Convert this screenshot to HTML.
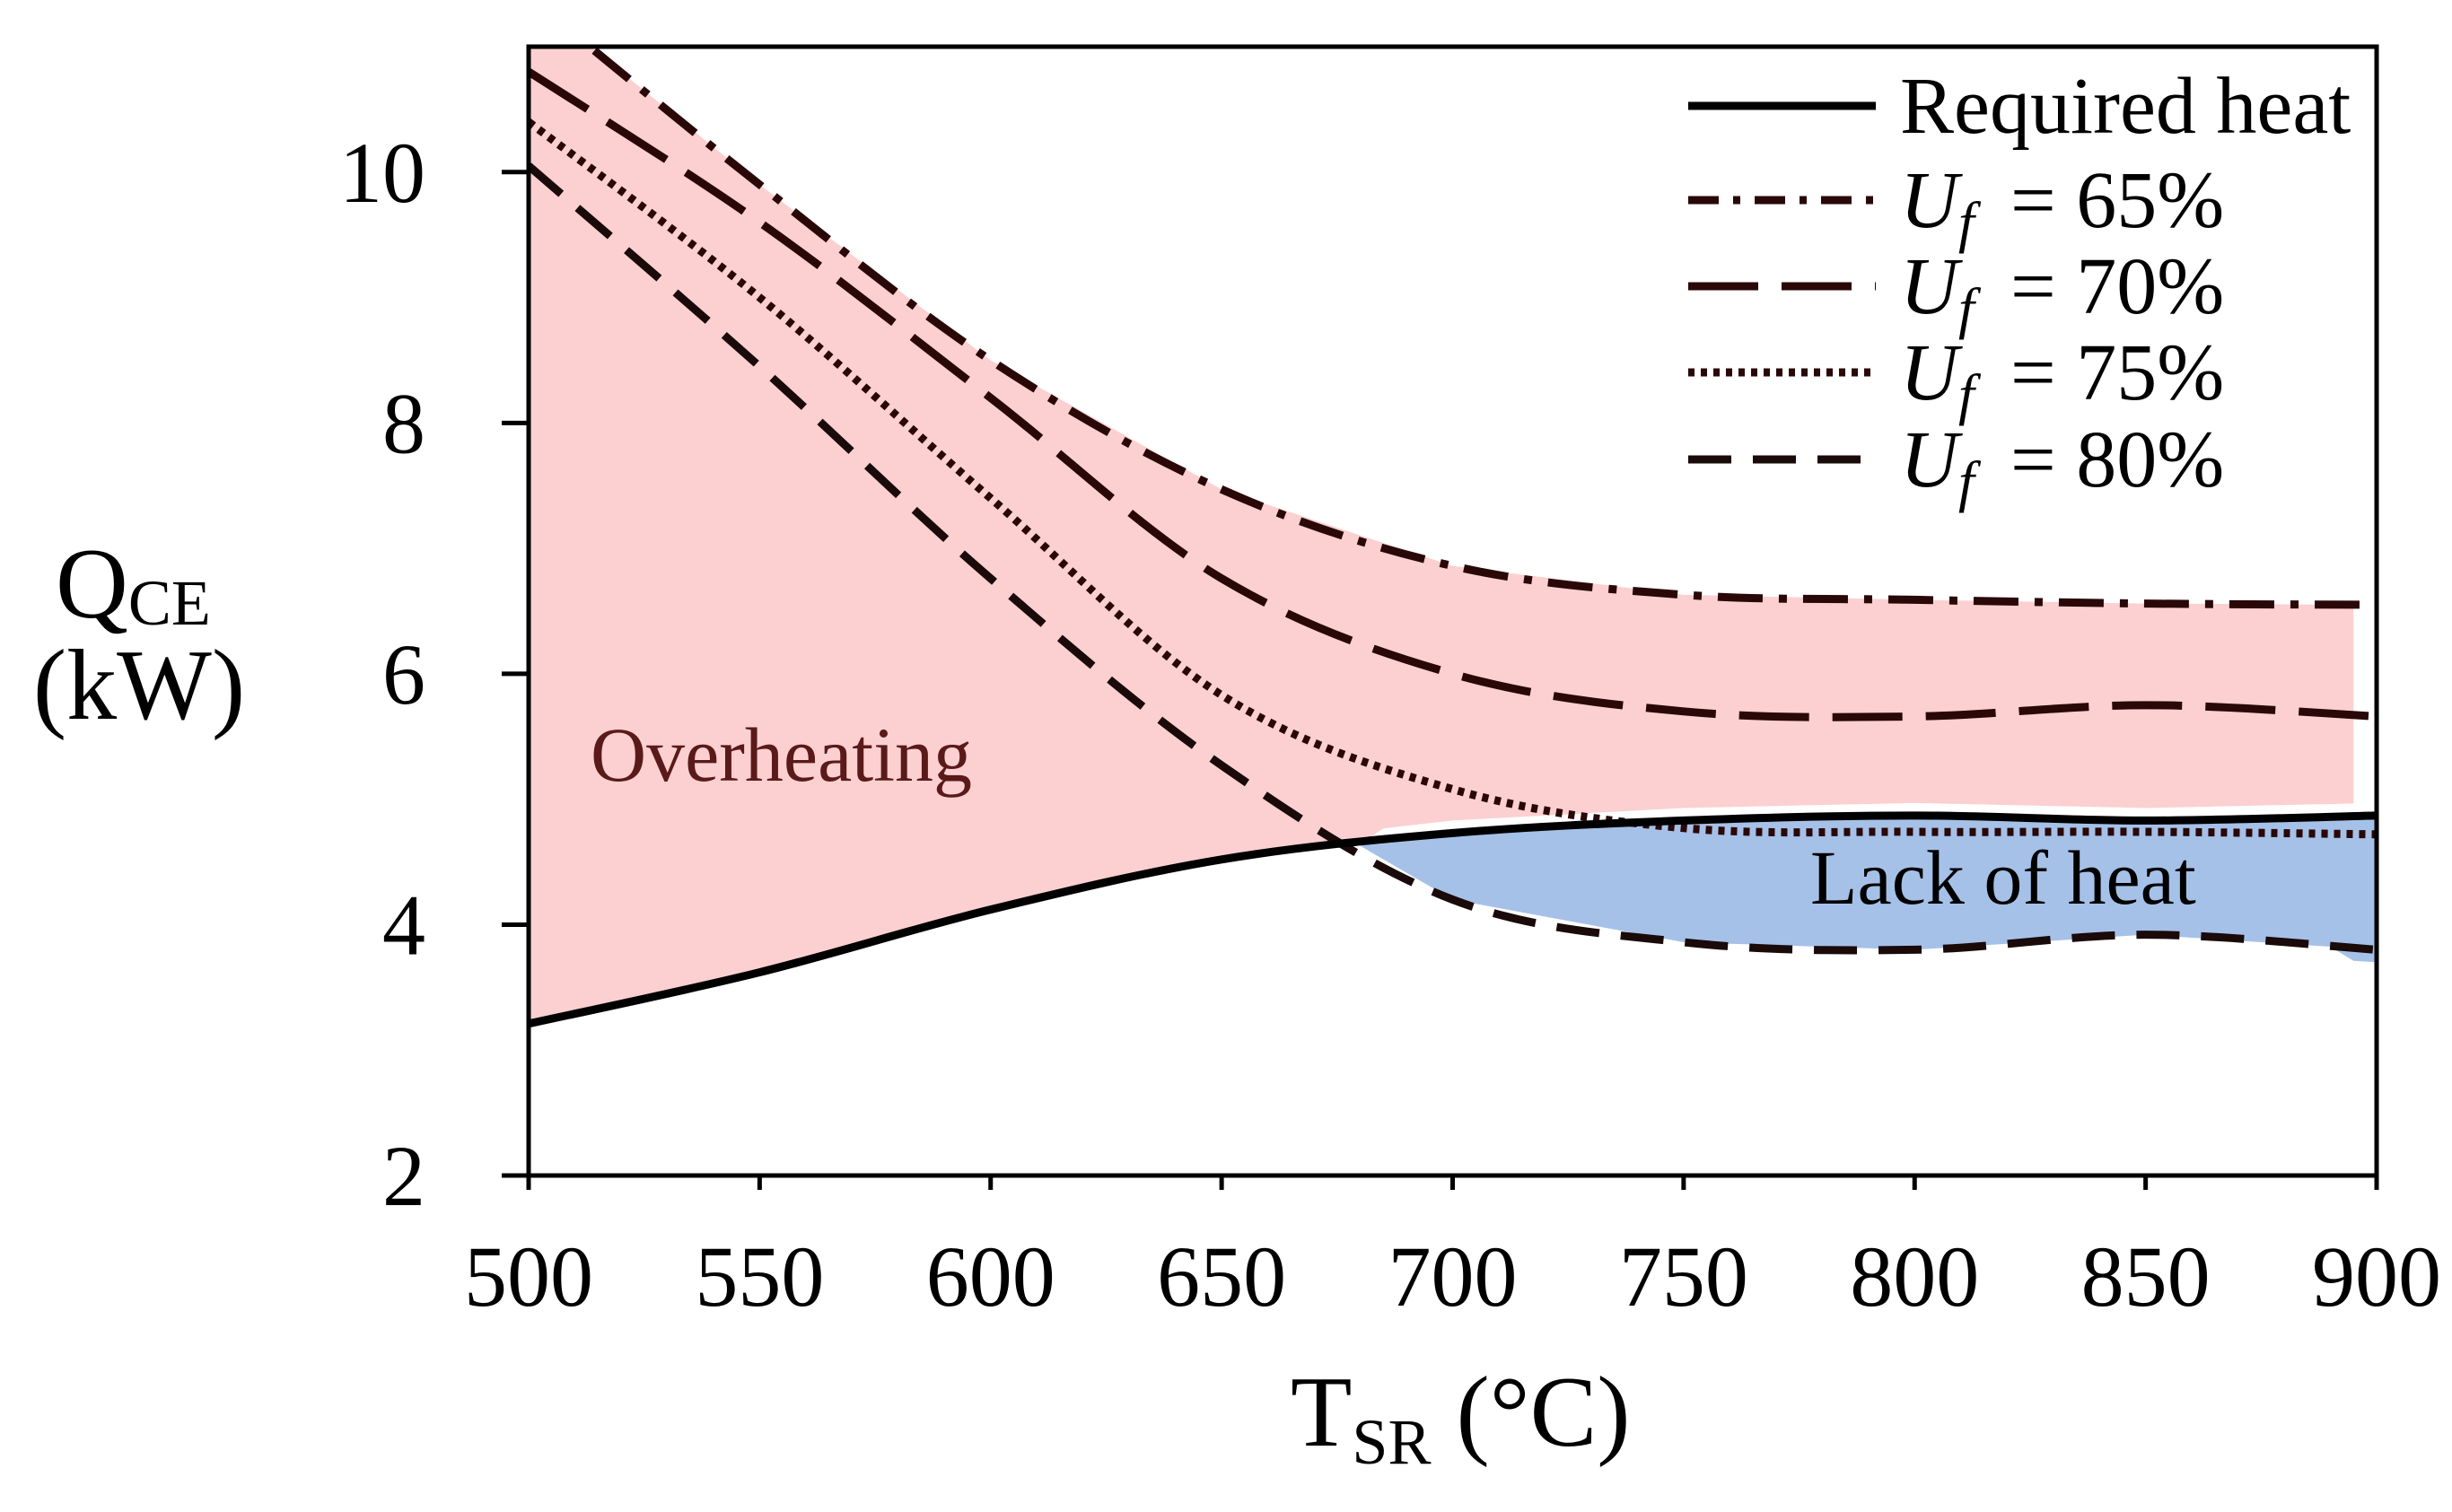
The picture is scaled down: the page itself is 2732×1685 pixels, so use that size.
<!DOCTYPE html>
<html><head><meta charset="utf-8"><style>
html,body{margin:0;padding:0;background:#fff;}
svg{display:block;font-family:"Liberation Serif",serif;}
</style></head><body>
<svg id="chart" width="2732" height="1685" viewBox="0 0 2732 1685" xmlns="http://www.w3.org/2000/svg"></svg>
<script>
const categories=[500,550,600,650,700,750,800,850,900];
const requiredHeat=[3.21,3.62,4.12,4.52,4.73,4.83,4.87,4.83,4.87];
const uf65=[11.4,9.9,8.5,7.47,6.86,6.63,6.59,6.56,6.55];
const uf70=[10.8,9.6,8.2,6.76,6.0,5.7,5.66,5.75,5.66];
const uf75=[10.4,9.0,7.4,5.83,5.08,4.77,4.74,4.74,4.72];
const uf80=[10.05,8.45,6.76,5.27,4.2,3.86,3.8,3.92,3.8];
const xTicks=[500,550,600,650,700,750,800,850,900];
const yTicks=[2,4,6,8,10];

const NS="http://www.w3.org/2000/svg";
const svgEl=document.getElementById('chart');
const X0=589,X1=2648,YB=1310,YT=52;
const xs=v=>X0+(v-500)/400*(X1-X0);
const ys=v=>YB-(v-2)/9*(YB-YT);
function el(tag,attrs,parent){const e=document.createElementNS(NS,tag);for(const k in attrs)e.setAttribute(k,attrs[k]);(parent||svgEl).appendChild(e);return e;}
function pts(arr){return categories.map((c,i)=>[xs(c),ys(arr[i])]);}
function curve(p){let d=`M${p[0][0]},${p[0][1]}`;for(let i=0;i<p.length-1;i++){const p0=p[i-1]||p[i],p1=p[i],p2=p[i+1],p3=p[i+2]||p2;
d+=` C${p1[0]+(p2[0]-p0[0])/6},${p1[1]+(p2[1]-p0[1])/6} ${p2[0]-(p3[0]-p1[0])/6},${p2[1]-(p3[1]-p1[1])/6} ${p2[0]},${p2[1]}`;}return d;}
function lerp(arr,x){for(let i=0;i<categories.length-1;i++){if(x>=categories[i]&&x<=categories[i+1]){const t=(x-categories[i])/(categories[i+1]-categories[i]);return arr[i]+t*(arr[i+1]-arr[i]);}}return arr[arr.length-1];}

const defs=el('defs',{});
const cp=el('clipPath',{id:'plotclip'},defs);
el('rect',{x:X0,y:YT,width:X1-X0,height:YB-YT},cp);
const g=el('g',{'clip-path':'url(#plotclip)'});



let cross=680;
for(let x=500;x<=900;x+=1){if(lerp(uf80,x)<=lerp(requiredHeat,x)){cross=x;break;}}
const topPts=[];for(let x=500;x<=895;x+=5)topPts.push([xs(x),ys(lerp(uf65,x))]);
let pd='M'+topPts.map(p=>p.join(',')).join(' L');
const botPts=[];
for(let x=895;x>=500;x-=5){const v=x>cross?lerp(requiredHeat,x)+0.1:lerp(requiredHeat,x);botPts.push([xs(x),ys(v)]);}
pd+=' L'+botPts.map(p=>p.join(',')).join(' L')+' Z';
const pink=el('path',{d:pd,fill:'#fcd0d0'},g);


const bt=[],bb=[];
for(let x=cross;x<=900;x+=5)bt.push([xs(x),ys(lerp(requiredHeat,x))]);
for(let x=900;x>=cross;x-=5)bb.push([xs(x),ys(lerp(uf80,x)-(x>=895?0.1:0))]);
const blue=el('path',{d:'M'+bt.map(p=>p.join(',')).join(' L')+' L'+bb.map(p=>p.join(',')).join(' L')+' Z',fill:'#a6c1e8'},g);



const series=[
 {name:'uf65-line',data:uf65,dash:'50 18 9 18',col:'#2a0808'},
 {name:'uf70-line',data:uf70,dash:'78 26',col:'#2a0808'},
 {name:'uf75-line',data:uf75,dash:'7 7',col:'#2a0808'},
 {name:'uf80-line',data:uf80,dash:'48 24',col:'#1a0a0a'},
 {name:'required-heat-line',data:requiredHeat,dash:'none',col:'#000'}];
series.forEach(s=>{const p=el('path',{d:curve(pts(s.data)),fill:'none',stroke:s.col,'stroke-width':9,'stroke-dasharray':s.dash},g);

});

const frame=el('rect',{x:X0,y:YT,width:X1-X0,height:YB-YT,fill:'none',stroke:'#000','stroke-width':5});


yTicks.forEach(v=>{const y=ys(v);el('line',{x1:X0-30,x2:X0,y1:y,y2:y,stroke:'#000','stroke-width':5});
const t=el('text',{x:474,y:y+33,'text-anchor':'end','font-size':96});t.textContent=v;

});
xTicks.forEach(v=>{const x=xs(v);el('line',{x1:x,x2:x,y1:YB,y2:YB+16,stroke:'#000','stroke-width':5});
const t=el('text',{x:x,y:1455,'text-anchor':'middle','font-size':96});t.textContent=v;

});
</script>
<svg style="position:absolute;left:0;top:0" width="2732" height="1685" font-family="Liberation Serif, serif">
<text x="1438" y="1611" font-size="112">T<tspan font-size="72" dy="20">SR</tspan><tspan dy="-20"> (°C)</tspan></text>
<text x="62" y="688" font-size="112">Q<tspan font-size="72" dy="8">CE</tspan></text>
<text x="155" y="801" font-size="112" text-anchor="middle">(kW)</text>
<text x="658" y="870" font-size="86" fill="#5a1a1a">Overheating</text>
<text x="2017" y="1007" font-size="86" fill="#000">Lack of heat</text>
<g font-size="90">
 <line x1="1881" x2="2090" y1="118" y2="118" stroke="#000" stroke-width="9"/>
 <text x="2117" y="148">Required heat</text>
 <line x1="1881" x2="2090" y1="223" y2="223" stroke="#2a0808" stroke-width="9" stroke-dasharray="34 16 8 16"/>
 <text x="2117" y="253"><tspan font-style="italic">U<tspan font-size="64" dy="16">f</tspan></tspan><tspan dy="-16" x="2240">= 65%</tspan></text>
 <line x1="1881" x2="2090" y1="319" y2="319" stroke="#2a0808" stroke-width="9" stroke-dasharray="78 26"/>
 <text x="2117" y="349"><tspan font-style="italic">U<tspan font-size="64" dy="16">f</tspan></tspan><tspan dy="-16" x="2240">= 70%</tspan></text>
 <line x1="1881" x2="2090" y1="415" y2="415" stroke="#2a0808" stroke-width="9" stroke-dasharray="7 7"/>
 <text x="2117" y="445"><tspan font-style="italic">U<tspan font-size="64" dy="16">f</tspan></tspan><tspan dy="-16" x="2240">= 75%</tspan></text>
 <line x1="1881" x2="2090" y1="512" y2="512" stroke="#1a0a0a" stroke-width="9" stroke-dasharray="48 24"/>
 <text x="2117" y="542"><tspan font-style="italic">U<tspan font-size="64" dy="16">f</tspan></tspan><tspan dy="-16" x="2240">= 80%</tspan></text>
</g>
</svg>
</body></html>
